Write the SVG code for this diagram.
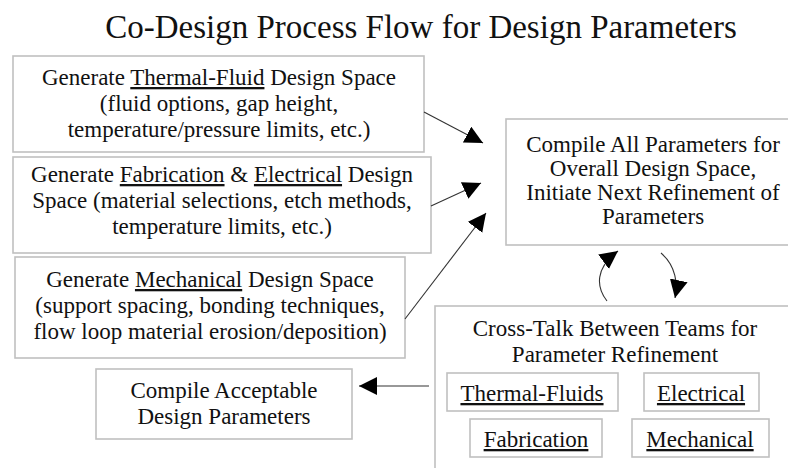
<svg xmlns="http://www.w3.org/2000/svg" width="788" height="468" viewBox="0 0 788 468">
  <defs>
    <style>
      text { font-family: "Liberation Serif", "Times New Roman", serif; fill: #111; }
      .t { font-size: 23px; text-anchor: middle; }
      .title { font-size: 33px; text-anchor: middle; }
      .box { fill: #fff; stroke: #c0c0c0; stroke-width: 1.6; }
      .link { fill: none; stroke: #333; stroke-width: 1.1; marker-end: url(#head); }
      .u { text-decoration: underline; }
    </style>
    <marker id="head" markerUnits="userSpaceOnUse" markerWidth="22" markerHeight="22" refX="18" refY="9" orient="auto">
      <path d="M0,0 L18,9 L0,18 Z" fill="#000"/>
    </marker>
  </defs>

  <rect width="788" height="468" fill="#fff"/>

  <text class="title" x="421" y="38">Co-Design Process Flow for Design Parameters</text>

  <g id="thermal-fluid">
    <rect class="box" x="13" y="56" width="411" height="96"/>
    <text class="t" x="219" y="85">Generate <tspan class="u">Thermal-Fluid</tspan> Design Space</text>
    <text class="t" x="219" y="111">(fluid options, gap height,</text>
    <text class="t" x="219" y="137">temperature/pressure limits, etc.)</text>
  </g>

  <g id="fab-electrical">
    <rect class="box" x="13" y="157" width="418" height="96"/>
    <text class="t" x="222" y="182">Generate <tspan class="u">Fabrication</tspan> &amp; <tspan class="u">Electrical</tspan> Design</text>
    <text class="t" x="222" y="208">Space (material selections, etch methods,</text>
    <text class="t" x="222" y="234">temperature limits, etc.)</text>
  </g>

  <g id="mechanical">
    <rect class="box" x="15" y="257" width="390" height="101"/>
    <text class="t" x="210" y="287">Generate <tspan class="u">Mechanical</tspan> Design Space</text>
    <text class="t" x="210" y="313">(support spacing, bonding techniques,</text>
    <text class="t" x="210" y="339">flow loop material erosion/deposition)</text>
  </g>

  <g id="compile-all">
    <rect class="box" x="506" y="119" width="300" height="126"/>
    <text class="t" x="653" y="152">Compile All Parameters for</text>
    <text class="t" x="653" y="176">Overall Design Space,</text>
    <text class="t" x="653" y="200">Initiate Next Refinement of</text>
    <text class="t" x="653" y="224">Parameters</text>
  </g>

  <g id="cross-talk">
    <rect class="box" x="435" y="306" width="370" height="180"/>
    <text class="t" x="615" y="336">Cross-Talk Between Teams for</text>
    <text class="t" x="615" y="362">Parameter Refinement</text>
  </g>

  <g id="team-thermal-fluids">
    <rect class="box" x="447" y="373" width="171" height="38"/>
    <text class="t u" x="532" y="401">Thermal-Fluids</text>
  </g>
  <g id="team-electrical">
    <rect class="box" x="644" y="373" width="115" height="38"/>
    <text class="t u" x="701" y="401">Electrical</text>
  </g>
  <g id="team-fabrication">
    <rect class="box" x="470" y="419" width="132" height="38"/>
    <text class="t u" x="536" y="447">Fabrication</text>
  </g>
  <g id="team-mechanical">
    <rect class="box" x="632" y="419" width="137" height="38"/>
    <text class="t u" x="700" y="447">Mechanical</text>
  </g>

  <g id="compile-acceptable">
    <rect class="box" x="96" y="369" width="256" height="70"/>
    <text class="t" x="224" y="398">Compile Acceptable</text>
    <text class="t" x="224" y="424">Design Parameters</text>
  </g>

  <g id="connectors">
    <path class="link" d="M424,112 L483,143"/>
    <path class="link" d="M431,206 L481,183"/>
    <path class="link" d="M405,319 L486,213"/>
    <path class="link" d="M429,386 L359,386"/>
    <path class="link" d="M607,301 C596,287 595,268 618,251"/>
    <path class="link" d="M661,253 C676,266 678,284 675,298"/>
  </g>
</svg>
